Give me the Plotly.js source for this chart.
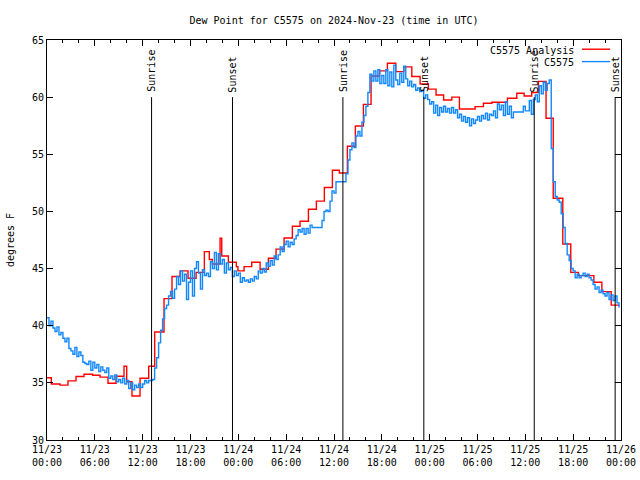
<!DOCTYPE html>
<html><head><meta charset="utf-8">
<script src="https://cdn.plot.ly/plotly-3.0.1.min.js"></script>
<style>html,body{margin:0;padding:0;background:#fff}</style>
</head><body><div id="chart" style="width:640px;height:480px"></div>
<script>
// ---- data ----
var startTime = '2024-11-23T00:00:00Z';
var obsStepMinutes = 15;
var obsName = 'C5575';
var analysisName = 'C5575 Analysis';
// station observations, every 15 minutes from 11/23 00:00 UTC (deg F)
var obsValues = [
 40.7,40.0,40.4,39.8, 39.5,39.9,39.2,39.4, 38.9,38.6,38.9,38.0, 37.8,37.5,38.1,37.3,
 37.7,37.4,36.8,36.7, 36.6,36.9,36.1,36.8, 36.3,36.6,36.0,36.4, 36.1,35.9,36.3,35.4,
 35.6,35.3,35.7,35.1, 35.3,35.0,35.4,34.9, 35.2,34.5,35.0,34.4, 34.8,34.6,34.9,34.6,
 34.9,35.2,35.0,35.2, 35.2,35.3,36.3,37.2, 38.5,39.6,40.6,41.5, 41.8,42.6,43.0,42.4,
 43.2,44.3,43.6,44.8, 43.9,44.5,42.3,43.8, 44.8,42.6,45.0,45.6, 44.6,43.2,44.9,44.4,
 44.6,44.3,45.6,45.0, 46.4,44.9,46.3,45.4, 45.8,44.6,45.5,44.9, 45.1,44.3,44.8,44.4,
 44.6,43.8,44.2,43.9, 44.0,43.8,44.1,43.9, 44.3,44.1,44.8,44.6, 45.0,44.7,45.5,45.2,
 45.7,45.3,46.1,45.8, 46.2,46.9,46.5,47.1, 47.4,46.9,47.3,47.1, 47.6,47.9,48.4,48.2,
 48.5,48.0,48.5,48.1, 48.8,48.6,48.6,48.6, 48.6,48.6,49.2,50.0, 50.1,50.0,50.9,51.8,
 51.6,52.6,52.6,52.6, 52.6,52.6,53.3,54.5, 55.4,56.0,55.6,56.6, 57.0,56.6,57.8,58.4,
 59.2,60.4,62.0,61.4, 62.3,61.4,62.4,61.2, 61.9,61.2,62.4,61.0, 62.2,60.9,62.8,61.5,
 61.1,62.1,61.3,62.7, 61.6,61.0,61.4,60.9, 61.1,60.6,60.8,60.5, 60.6,59.9,60.2,59.8,
 59.4,59.6,58.6,59.3, 58.4,59.1,58.7,59.2, 58.7,59.0,58.6,59.1, 58.6,58.9,58.2,58.5,
 57.9,58.3,57.8,58.2, 57.5,58.1,57.7,58.0, 58.3,57.9,58.4,58.1, 58.6,58.0,58.5,58.4,
 58.8,58.2,59.4,58.9, 59.3,58.4,59.6,58.5, 59.2,58.2,58.7,58.7, 58.7,58.7,58.7,59.2,
 58.8,58.8,59.7,58.5, 59.8,60.2,59.6,61.0, 60.3,61.3,60.6,61.2, 61.5,55.5,52.6,51.3,
 51.0,50.8,49.8,48.6, 47.2,46.2,45.7,45.0, 44.8,44.2,44.5,44.2, 44.4,44.6,44.3,44.5,
 44.2,44.0,43.6,43.2, 43.4,42.9,43.1,42.8, 42.6,42.9,42.3,42.7, 42.2,42.6,42.0,41.6
];
// analysis: hours after 11/23 00:00 UTC at which a new value starts, and that value
var analysisHours = [0,0.54,1.63,2.63,3.64,4.64,5.73,6.65,7.65,8.66,9.66,10.0,10.66,11.67,12.76,13.51,
 14.68,15.68,16.69,17.69,18.7,19.74,20.36,20.74,21.71,21.92,22.75,23.75,23.95,24.72,25.68,26.73,
 27.77,28.73,29.74,30.78,31.74,32.79,33.79,34.79,35.8,36.67,37.68,38.68,39.69,40.65,41.7,42.7,
 43.75,44.76,45.76,46.8,47.84,48.8,49.75,50.78,51.73,53.7,54.74,55.8,57.75,58.93,59.85,60.8,
 61.64,62.6,63.5,64.7,65.7,66.66,68.6,69.6,70.77,71.77];
var analysisValues = [35.45,34.9,34.8,35.17,35.55,35.75,35.67,35.5,34.97,35.58,36.45,35.1,33.85,35.4,36.45,39.45,
 42.37,44.3,44.8,44.15,44.67,46.48,45.8,45.4,47.65,46.1,45.55,45.17,44.8,45.17,45.55,44.94,
 45.9,46.7,47.68,48.7,49.14,50.19,50.9,52.1,53.6,53.36,55.7,57.47,59.37,61.85,62.3,62.96,
 62.23,62.65,61.8,61.15,60.7,60.19,59.75,60.0,58.96,59.17,59.46,59.55,59.9,60.34,60.1,60.4,
 61.38,58.15,51.15,47.15,44.67,44.38,43.8,42.98,41.8,41.8];
var sunriseTimes = ['2024-11-23 13:07','2024-11-24 13:07','2024-11-25 13:07'];
var sunsetTimes  = ['2024-11-23 23:16','2024-11-24 23:16','2024-11-25 23:16'];
var xTickLabelsFormat = '%m/%d<br>%H:%M';

// ---- build ----
var t0 = Date.parse(startTime);
function fmt(ms){ return new Date(ms).toISOString().replace('T',' ').slice(0,19); }
var obsTimes = obsValues.map(function(v,i){ return fmt(t0 + i*obsStepMinutes*60000); });
var anTimes = analysisHours.map(function(h){ return fmt(t0 + h*3600000); });

var mono = 'DejaVu Sans Mono, monospace';
var RED = '#ff0000', BLUE = '#1288ff';

var traces = [
 {x: anTimes, y: analysisValues, type:'scatter', mode:'lines', line:{shape:'hv', color:RED, width:1.4}, name: analysisName, showlegend:false},
 {x: obsTimes, y: obsValues, type:'scatter', mode:'lines', line:{shape:'hv', color:BLUE, width:1.4}, name: obsName, showlegend:false}
];

var shapes = [], annotations = [];
function sunEvent(t, label){
  shapes.push({type:'line', xref:'x', yref:'y', x0:t, x1:t, y0:30, y1:60, line:{color:'#000', width:1}});
  annotations.push({x:t, y:60, xref:'x', yref:'y', text:label, textangle:-90, showarrow:false,
    xanchor:'center', yanchor:'bottom', yshift:3, font:{family:mono, size:10, color:'#000'}});
}
sunriseTimes.forEach(function(t){ sunEvent(t,'Sunrise'); });
sunsetTimes.forEach(function(t){ sunEvent(t,'Sunset'); });

// legend (gnuplot style: text then line sample)
[[analysisName, RED, 0.975],[obsName, BLUE, 0.944]].forEach(function(e){
  annotations.push({x:0.921, y:e[2], xref:'paper', yref:'paper', text:e[0], showarrow:false,
    xanchor:'right', yanchor:'middle', font:{family:mono, size:10, color:'#000'}});
  shapes.push({type:'line', xref:'paper', yref:'paper', x0:0.932, x1:0.981, y0:e[2]+0.002, y1:e[2]+0.002, line:{color:e[1], width:1.4}});
});

var axisCommon = {showline:true, linecolor:'#000', linewidth:1, mirror:'ticks', ticks:'inside',
  ticklen:6, tickcolor:'#000', tickwidth:1, showgrid:false, zeroline:false,
  tickfont:{family:mono, size:10, color:'#000'}};

var layout = {
  width:640, height:480,
  margin:{l:47, r:19, t:40, b:40},
  paper_bgcolor:'#fff', plot_bgcolor:'#fff',
  title:{text:'Dew Point for C5575 on 2024-Nov-23 (time in UTC)', x:0.5, xref:'paper', xanchor:'center',
    y:0.958, yref:'container', yanchor:'middle', font:{family:mono, size:10, color:'#000'}},
  xaxis: Object.assign({}, axisCommon, {type:'date', range:['2024-11-23 00:00','2024-11-26 00:00'],
    tick0:'2024-11-23 00:00', dtick:6*3600000, tickformat:xTickLabelsFormat,
    minor:{dtick:2*3600000, ticks:'inside', ticklen:3, tickcolor:'#000', showgrid:false}}),
  yaxis: Object.assign({}, axisCommon, {range:[30,65], dtick:5, tick0:30,
    title:{text:'degrees F', standoff:15, font:{family:mono, size:10, color:'#000'}}}),
  shapes: shapes,
  annotations: annotations,
  showlegend:false
};
Plotly.newPlot('chart', traces, layout, {displayModeBar:false, staticPlot:true});
</script></body></html>
